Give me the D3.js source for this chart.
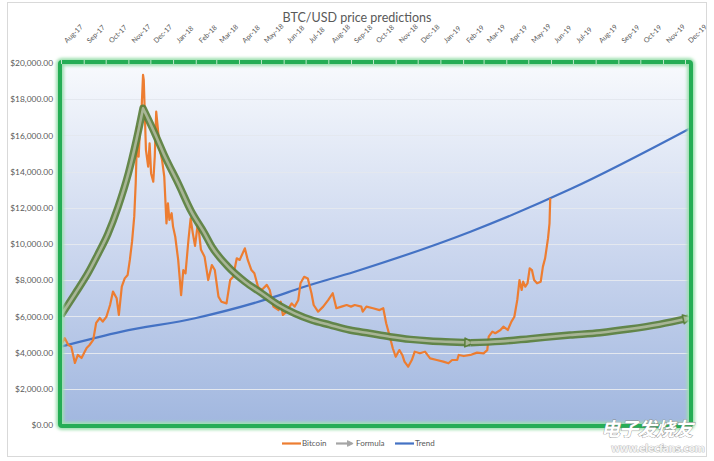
<!DOCTYPE html>
<html>
<head>
<meta charset="utf-8">
<script src="https://cdn.jsdelivr.net/npm/d3@7"></script>
<style>
  html, body { margin: 0; padding: 0; background: #fff; }
  svg { display: block; font-family: Lato, "Open Sans", sans-serif; }
</style>
</head>
<body>
<svg id="chart" width="714" height="461"></svg>
<script>
// ---------- DATA ----------
const chartTitle = "BTC/USD price predictions";
const monthLabels = ["Aug-17","Sep-17","Oct-17","Nov-17","Dec-17","Jan-18","Feb-18","Mar-18","Apr-18","May-18","Jun-18","Jul-18","Aug-18","Sep-18","Oct-18","Nov-18","Dec-18","Jan-19","Feb-19","Mar-19","Apr-19","May-19","Jun-19","Jul-19","Aug-19","Sep-19","Oct-19","Nov-19","Dec-19"];
const yTickValues = [0, 2000, 4000, 6000, 8000, 10000, 12000, 14000, 16000, 18000, 20000];
const seriesNames = ["Bitcoin", "Formula", "Trend"];

const btcDates = ["2017-08-01","2017-08-06","2017-08-11","2017-08-15","2017-08-20","2017-08-24","2017-08-29","2017-09-05","2017-09-09","2017-09-14","2017-09-18","2017-09-23","2017-09-27","2017-10-02","2017-10-07","2017-10-11","2017-10-16","2017-10-19","2017-10-23","2017-10-27","2017-10-31","2017-11-03","2017-11-06","2017-11-09","2017-11-11","2017-11-12","2017-11-13","2017-11-15","2017-11-17","2017-11-19","2017-11-21","2017-11-22","2017-11-23","2017-11-25","2017-11-28","2017-11-30","2017-12-02","2017-12-05","2017-12-07","2017-12-09","2017-12-11","2017-12-14","2017-12-17","2017-12-20","2017-12-23","2017-12-25","2017-12-27","2017-12-30","2018-01-01","2018-01-04","2018-01-08","2018-01-12","2018-01-15","2018-01-18","2018-01-22","2018-01-25","2018-01-28","2018-01-31","2018-02-04","2018-02-08","2018-02-13","2018-02-18","2018-02-23","2018-02-27","2018-03-04","2018-03-08","2018-03-15","2018-03-20","2018-03-24","2018-03-29","2018-04-02","2018-04-09","2018-04-13","2018-04-18","2018-04-22","2018-04-27","2018-05-02","2018-05-09","2018-05-13","2018-05-18","2018-05-25","2018-05-28","2018-05-31","2018-06-05","2018-06-12","2018-06-16","2018-06-21","2018-06-24","2018-06-29","2018-07-04","2018-07-09","2018-07-12","2018-07-18","2018-07-25","2018-08-01","2018-08-07","2018-08-12","2018-08-19","2018-08-26","2018-09-01","2018-09-06","2018-09-15","2018-09-17","2018-09-22","2018-10-01","2018-10-10","2018-10-15","2018-10-19","2018-10-24","2018-10-28","2018-11-01","2018-11-06","2018-11-10","2018-11-13","2018-11-18","2018-11-23","2018-11-27","2018-12-04","2018-12-11","2018-12-18","2018-12-27","2019-01-05","2019-01-12","2019-01-17","2019-01-24","2019-01-26","2019-02-02","2019-02-11","2019-02-20","2019-03-01","2019-03-06","2019-03-08","2019-03-13","2019-03-17","2019-03-24","2019-03-28","2019-04-03","2019-04-08","2019-04-12","2019-04-16","2019-04-19","2019-04-22","2019-04-24","2019-04-27","2019-04-30","2019-05-03","2019-05-06","2019-05-09","2019-05-13","2019-05-18","2019-05-21","2019-05-24","2019-05-28","2019-05-30","2019-05-31"];
const btcPrices = [4420,4800,4420,4330,3430,3870,3700,4250,4420,4700,5640,5910,5710,5980,6630,7370,7000,6080,7640,8100,8290,9120,10130,11510,13350,14820,16480,14820,16480,17400,19340,19060,17770,15190,14270,15560,13900,13440,14820,17310,16480,15190,14640,13720,11140,12250,11330,11700,10960,10400,9120,7180,8560,8380,10220,11420,10590,9900,11200,9700,9300,8010,8840,8560,7090,6810,6720,8010,8190,9210,9120,9760,9120,8560,8380,7640,7460,7740,7460,6540,6350,6810,6080,6260,6720,6540,6910,7830,8190,8100,7280,6630,6260,6540,6910,7280,6450,6540,6630,6540,6630,6540,6260,6540,6450,6350,6450,5620,4880,4240,3770,4140,3870,3500,3220,3590,4050,3960,4050,3680,3590,3500,3410,3590,3590,3870,3810,3870,4000,3960,4140,4880,5160,5070,5250,5430,5250,5710,5980,6910,8010,7460,7920,7640,7830,8660,8560,8010,7830,7920,8750,9210,10320,11140,12530];

// Formula: rise to the peak, decay to the arrow, then the projected tail
const formulaRiseDates = ["2017-08-01","2017-08-20","2017-09-07","2017-09-20","2017-10-04","2017-10-18","2017-11-01","2017-11-12","2017-11-21"];
const formulaRiseValues = [6050,7240,8400,9400,10550,12050,13900,15750,17500];
const formulaFallDates = ["2017-11-21","2017-12-07","2017-12-21","2018-01-08","2018-01-26","2018-02-13","2018-02-23","2018-03-17","2018-04-09","2018-05-02","2018-05-25","2018-06-16","2018-07-09","2018-08-03","2018-08-30","2018-09-26","2018-10-24","2018-11-21","2018-12-18","2019-01-15","2019-02-11"];
const formulaFallValues = [17500,16120,14820,13350,11790,10590,9850,8750,7920,7280,6630,6170,5800,5530,5250,5070,4880,4730,4640,4590,4550];
const formulaTailDates = ["2019-02-11","2019-03-24","2019-05-04","2019-06-27","2019-08-07","2019-09-16","2019-10-27","2019-12-06"];
const formulaTailValues = [4550,4620,4770,4970,5100,5300,5560,5900];

const trendDates = ["2017-08-01","2017-10-23","2018-01-31","2018-05-20","2018-06-24","2018-09-06","2019-02-11","2019-06-27","2019-12-09"];
const trendValues = [4330,5160,5900,7090,7570,8470,10680,13020,16410];

// ---------- SETUP ----------
const parse = d3.utcParse("%Y-%m-%d");
const zip = (ds, vs) => ds.map((d, i) => ({ date: parse(d), value: vs[i] }));
const btc = zip(btcDates, btcPrices);
const fRise = zip(formulaRiseDates, formulaRiseValues);
const fFall = zip(formulaFallDates, formulaFallValues);
const fTail = zip(formulaTailDates, formulaTailValues);
const trend = zip(trendDates, trendValues);

const monthStarts = monthLabels.map((m, i) => new Date(Date.UTC(2017, 7 + i, 1)));

const plot = { left: 61, right: 691, top: 62, bottom: 425 };
const x = d3.scaleUtc()
  .domain([monthStarts[0], monthStarts[monthStarts.length - 1]])
  .range([61, 685]);
const y = d3.scaleLinear().domain([0, 20000]).range([425, 63]);

const svg = d3.select("#chart");
const defs = svg.append("defs");

const grad = defs.append("linearGradient").attr("id", "bg").attr("x1", 0).attr("y1", 0).attr("x2", 0).attr("y2", 1);
grad.append("stop").attr("offset", "0%").attr("stop-color", "#f8fafd");
grad.append("stop").attr("offset", "50%").attr("stop-color", "#cdd8ef");
grad.append("stop").attr("offset", "100%").attr("stop-color", "#a1b7df");

const glow = defs.append("filter").attr("id", "glow").attr("x", "-10%").attr("y", "-10%").attr("width", "120%").attr("height", "120%");
glow.append("feGaussianBlur").attr("stdDeviation", 1.6);

function arrowMarker(id, fill, stroke, size) {
  defs.append("marker")
    .attr("id", id)
    .attr("viewBox", "0 0 10 10")
    .attr("refX", 6).attr("refY", 5)
    .attr("markerUnits", "userSpaceOnUse")
    .attr("markerWidth", size).attr("markerHeight", size)
    .attr("orient", "auto")
    .append("path")
    .attr("d", "M1,1 L9,5 L1,9 Z")
    .attr("fill", fill).attr("stroke", stroke).attr("stroke-width", 1.4)
    .attr("stroke-linejoin", "round");
}
arrowMarker("arrowF", "#a8b596", "#5a7f3c", 11);
arrowMarker("arrowL", "#a5a5a5", "#a5a5a5", 7);

// outer chart border
svg.append("rect").attr("x", 7.5).attr("y", 2.5).attr("width", 699).attr("height", 454)
  .attr("fill", "#fff").attr("stroke", "#d9d9d9");

// title
svg.append("text").attr("x", 357).attr("y", 22).attr("text-anchor", "middle")
  .attr("font-size", 12.5).attr("fill", "#595959").text(chartTitle);

// plot background
svg.append("rect").attr("x", plot.left).attr("y", plot.top)
  .attr("width", plot.right - plot.left).attr("height", plot.bottom - plot.top)
  .attr("fill", "url(#bg)");

// gridlines
svg.append("g").selectAll("line").data(yTickValues.filter(v => v > 0 && v < 20000)).join("line")
  .attr("x1", plot.left).attr("x2", plot.right)
  .attr("y1", d => Math.round(y(d)) + 0.5).attr("y2", d => Math.round(y(d)) + 0.5)
  .attr("stroke", "#e4e8ef").attr("stroke-width", 1);

// y axis
const yAxis = svg.append("g").attr("transform", "translate(55,0)")
  .call(d3.axisLeft(y).tickValues(yTickValues).tickFormat(d3.format("$,.2f")).tickSize(0).tickPadding(2));
yAxis.select(".domain").remove();
yAxis.selectAll("text").attr("font-size", 8.4).attr("fill", "#595959")
  .attr("font-family", "Lato, 'Open Sans', sans-serif");

// ---------- SERIES ----------
const lineMono = d3.line().x(d => x(d.date)).y(d => y(d.value)).curve(d3.curveMonotoneX);
const lineLin = d3.line().x(d => x(d.date)).y(d => y(d.value));

// trend
svg.append("path").attr("d", lineMono(trend)).attr("fill", "none")
  .attr("stroke", "#4472c4").attr("stroke-width", 2.2);

// bitcoin
svg.append("path").attr("d", lineLin(btc)).attr("fill", "none")
  .attr("stroke", "#ed7d31").attr("stroke-width", 2.2).attr("stroke-linejoin", "round");

// formula (gray line with green glow)
const formulaMain = lineMono(fRise) + lineMono(fFall).replace(/^M/, "L");
const formulaTail = lineMono(fTail);
[formulaMain, formulaTail].forEach(d => {
  svg.append("path").attr("d", d).attr("fill", "none")
    .attr("stroke", "#5a7f3c").attr("stroke-width", 7.5).attr("stroke-opacity", 0.92)
    .attr("stroke-linejoin", "round");
  svg.append("path").attr("d", d).attr("fill", "none")
    .attr("stroke", "#a8b596").attr("stroke-width", 2.6)
    .attr("stroke-linejoin", "round")
    .attr("marker-end", "url(#arrowF)");
});

// plot border (green glow)
svg.append("rect").attr("x", plot.left - 1).attr("y", plot.top).attr("width", plot.right - plot.left + 1).attr("height", plot.bottom - plot.top + 1)
  .attr("fill", "none").attr("stroke", "#9fe0b0").attr("stroke-width", 8).attr("rx", 2).attr("filter", "url(#glow)");
svg.append("rect").attr("x", plot.left - 1).attr("y", plot.top).attr("width", plot.right - plot.left + 1).attr("height", plot.bottom - plot.top + 1)
  .attr("fill", "none").attr("stroke", "#25ad55").attr("stroke-width", 4).attr("rx", 2);

// x axis at top
const xAxis = svg.append("g").attr("transform", `translate(0,${plot.top})`)
  .call(d3.axisTop(x).tickValues(monthStarts).tickSize(3)
    .tickFormat((d, i) => monthLabels[i]));
xAxis.select(".domain").remove();
xAxis.selectAll(".tick line").attr("stroke", "#bfe6c9").attr("stroke-width", 1).attr("y1", 2).attr("y2", -2);
xAxis.selectAll("text")
  .attr("font-size", 7).attr("fill", "#595959")
  .attr("font-family", "Lato, 'Open Sans', sans-serif")
  .attr("text-anchor", "start").attr("x", 0).attr("y", 0).attr("dy", "0.32em")
  .attr("transform", "translate(4,-20) rotate(-45)");

// legend
const legend = svg.append("g").attr("font-size", 8).attr("fill", "#595959");
const legendItems = [
  { name: seriesNames[0], x: 282, color: "#ed7d31", arrow: false },
  { name: seriesNames[1], x: 336, color: "#a5a5a5", arrow: true },
  { name: seriesNames[2], x: 395, color: "#4472c4", arrow: false }
];
legendItems.forEach(it => {
  legend.append("line").attr("x1", it.x).attr("x2", it.x + (it.arrow ? 15 : 19))
    .attr("y1", 443.5).attr("y2", 443.5).attr("stroke", it.color).attr("stroke-width", 2.2)
    .attr("marker-end", it.arrow ? "url(#arrowL)" : null);
  legend.append("text").attr("x", it.x + 20).attr("y", 443.5).attr("dy", "0.35em")
    .attr("fill", "#595959").text(it.name);
});

// watermark
svg.append("text").attr("x", 601).attr("y", 436).attr("font-size", 19)
  .attr("font-family", "'Noto Sans CJK SC', sans-serif").attr("font-style", "italic").attr("font-weight", "bold")
  .attr("fill", "#ffffff").attr("stroke", "#8a8a8a").attr("stroke-width", 0.8).attr("paint-order", "stroke")
  .attr("textLength", 92).text("电子发烧友");
svg.append("text").attr("x", 611).attr("y", 452).attr("font-size", 10)
  .attr("font-family", "'DejaVu Sans', sans-serif").attr("font-weight", "bold")
  .attr("fill", "#f2f2f2").attr("stroke", "#9a9a9a").attr("stroke-width", 0.6).attr("paint-order", "stroke")
  .attr("textLength", 94).text("www.elecfans.com");
</script>
</body>
</html>
